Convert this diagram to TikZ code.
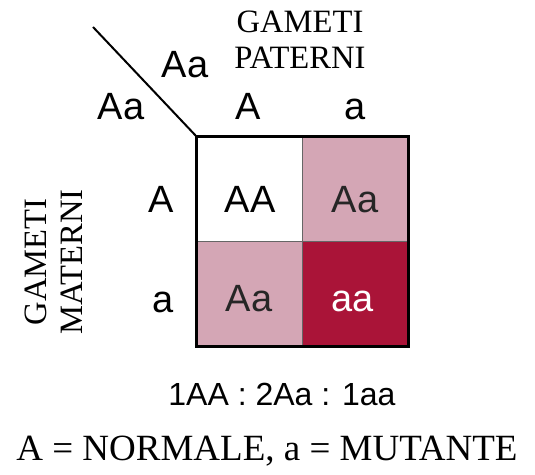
\documentclass[tikz,border=0pt]{standalone}
\usepackage{fontspec}
\setmainfont{Liberation Serif}
\newfontfamily\arialfont{Liberation Sans}
\definecolor{het}{RGB}{212,166,181}
\definecolor{hom}{RGB}{170,20,56}
\begin{document}
\begin{tikzpicture}[x=0.5pt, y=-0.5pt, every node/.style={inner sep=0pt, font=\arialfont\fontsize{19}{22}\selectfont}, cell/.style={draw=black!60, line width=0.4pt, minimum width=52.75pt, minimum height=52.25pt}, lbl/.style={font=\fontsize{16.3}{18}\selectfont, align=center}]
	\useasboundingbox (0,0) rectangle (535,475);
	\foreach \r/\c/\col in {1/1/white, 1/2/het, 2/1/het, 2/2/hom} {\node[cell, fill=\col] (c\r\c) at ({197+105.5*(\c-0.5)},{137+104.5*(\r-0.5)}) {};}
	\draw[line width=1.5pt] (c11.north west) rectangle (c22.south east);
	\coordinate (d0) at (93,27);
	\draw[line width=1pt] (d0) -- (c11.north west);
	\node[anchor=base] (g11) at (250,213) {AA};
	\node[anchor=base, text=black!85] (g12) at (355,213) {Aa};
	\node[anchor=base, text=black!85] (g21) at (249,312) {Aa};
	\node[anchor=base, text=white] (g22) at (353,312) {aa};
	\node[anchor=base] (pf) at (185,78) {Aa};
	\node[anchor=base] (pm) at (121,120) {Aa};
	\node[anchor=base] (hA) at (248,120) {A};
	\node[anchor=base] (ha) at (355,120) {a};
	\node[anchor=base] (vA) at (161,213) {A};
	\node[anchor=base] (va) at (163,313) {a};
	\node[lbl] (pat) at (300,40) {GAMETI\\PATERNI};
	\node[lbl, rotate=90] (mat) at (54,262) {GAMETI\\MATERNI};
	\node[anchor=base, font=\arialfont\fontsize{16}{20}\selectfont] (ratio) at (282,405) {1AA : 2Aa : 1aa};
	\node[anchor=base, font=\fontsize{18.5}{20}\selectfont] (key) at (267,460) {A = NORMALE, a = MUTANTE};
\end{tikzpicture}
\end{document}
